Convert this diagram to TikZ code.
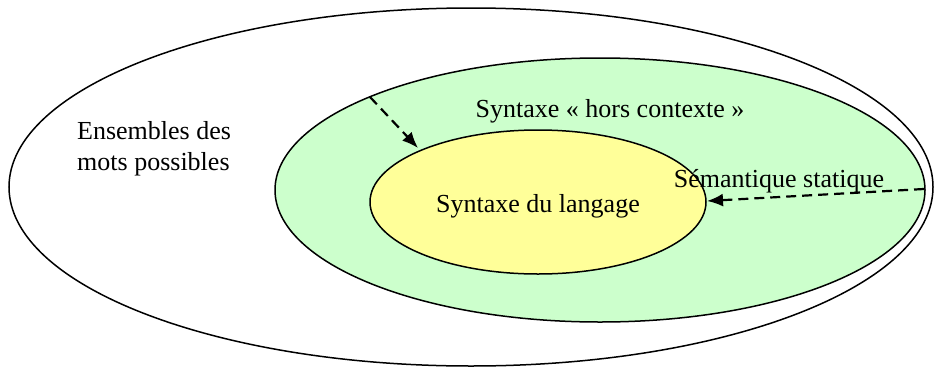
\documentclass[tikz,border=0pt]{standalone}
\usepackage{fontspec}
\setmainfont{Liberation Serif}
\usetikzlibrary{shapes.geometric,arrows.meta}
\definecolor{greenfill}{HTML}{CCFFCC}
\definecolor{yellowfill}{HTML}{FFFF99}
\tikzset{
  set/.style={ellipse, draw=black, line width=1.5pt, inner sep=0pt, minimum width=#1},
  lbl/.style={font=\fontsize{26}{31}\selectfont, inner sep=0pt, align=center, anchor=base},
  darrow/.style={dash pattern=on 10pt off 6pt, line width=2.2pt, -{Latex[length=16pt,width=13pt]}}
}
\begin{document}
\begin{tikzpicture}[x=1pt,y=-1pt]
\useasboundingbox (0,0) rectangle (936,367);
\node[set=924pt, minimum height=358pt, fill=white] (outer) at (471,187) {};
\node[set=650pt, minimum height=264pt, fill=greenfill] (green) at (600,190) {};
\node[set=336pt, minimum height=144pt, fill=yellowfill] (yellow) at (538,202) {};
\node[lbl, align=left, anchor=base west] (ens) at (77,170) {Ensembles des\\mots possibles};
\node[lbl] (hc) at (610,117) {Syntaxe « hors contexte »};
\node[lbl] (sl) at (538,212) {Syntaxe du langage};
\node[lbl] (ss) at (779,187) {Sémantique statique};
\coordinate (a1s) at (370,97);
\coordinate (a1e) at (418,148);
\coordinate (a2s) at (924,189);
\coordinate (a2e) at (707,201);
\draw[darrow] (a1s) -- (a1e);
\draw[darrow] (a2s) -- (a2e);
\end{tikzpicture}
\end{document}
